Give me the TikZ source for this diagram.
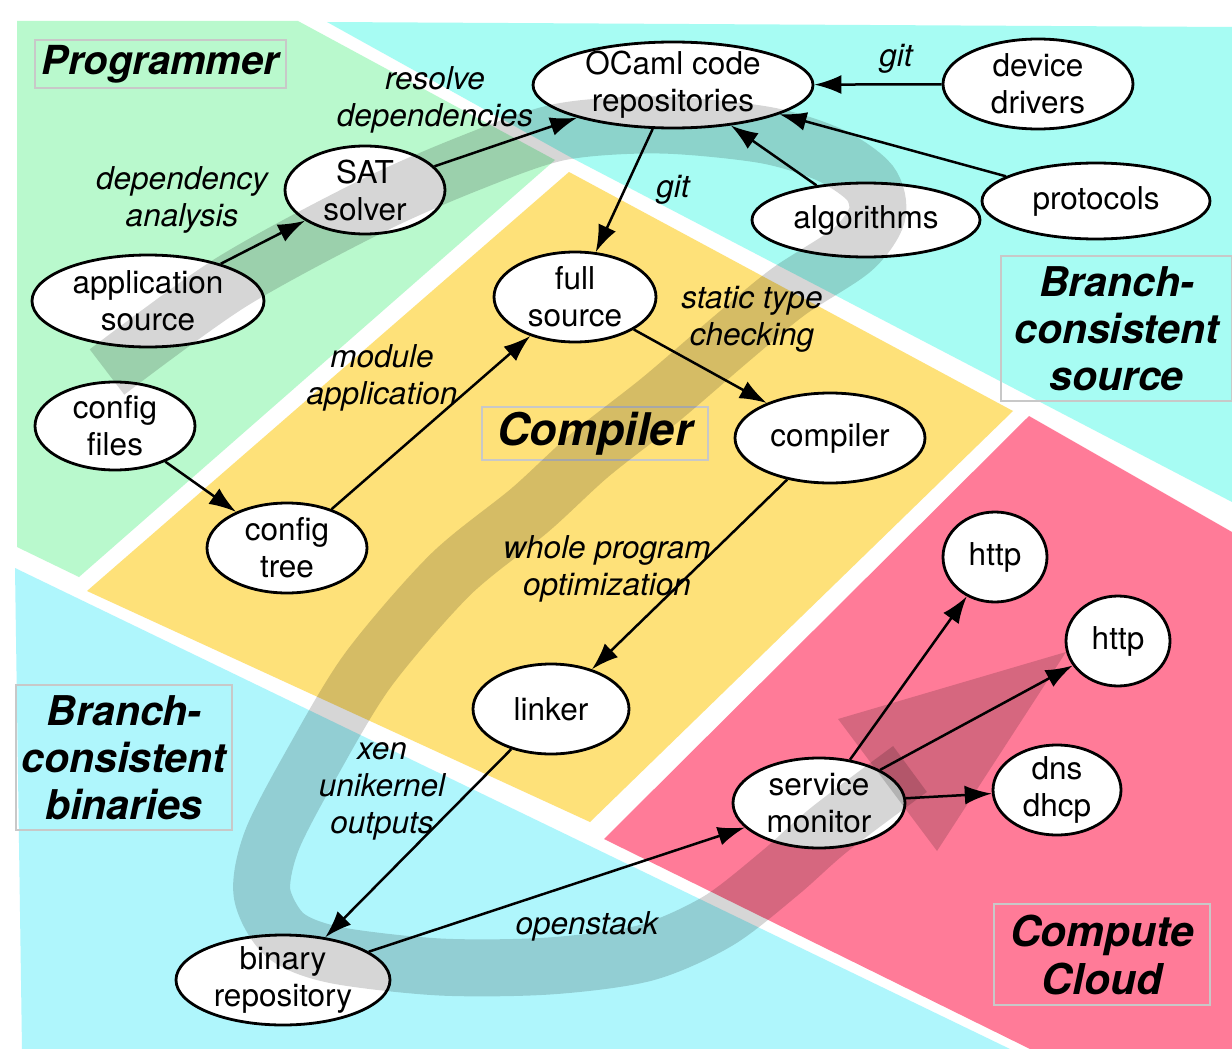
\documentclass[tikz,border=0pt]{standalone}
\usepackage{fontspec}
\setmainfont{TeX Gyre Heros}
\usetikzlibrary{arrows.meta,shapes.geometric}
\definecolor{cgreen}{RGB}{185,249,205}
\definecolor{ccyanA}{RGB}{167,252,243}
\definecolor{ccyanB}{RGB}{175,246,252}
\definecolor{cyellow}{RGB}{254,225,121}
\definecolor{cpink}{RGB}{255,123,152}
\definecolor{boxgray}{RGB}{200,200,200}
\begin{document}
\begin{tikzpicture}[x=1pt,y=-1pt,
  ell/.style={draw, ellipse, fill=white, line width=2.8pt, inner sep=0pt},
  ntext/.style={font=\fontsize{31.5}{37}\selectfont, align=center, inner sep=0pt},
  lbl/.style={font=\fontsize{31.5}{37}\selectfont\itshape, align=center, inner sep=0pt},
  ttl/.style={draw=boxgray, line width=2.2pt, font=\fontsize{41}{47}\selectfont\bfseries\itshape, align=center, inner sep=0pt},
  conn/.style={line width=2.5pt, -{Latex[length=27pt,width=19pt]}},
  band/.style={draw=black, draw opacity=0.16, line width=57pt},
  bandhead/.style={fill=black, fill opacity=0.16}
]
\useasboundingbox (0,0) rectangle (1232,1049);
\fill[white] (0,0) rectangle (1232,1049);
% regions
\fill[cgreen] (17,21) -- (298,21) -- (555,160) -- (79,577) -- (17,547) -- cycle;
\fill[ccyanA] (327,22) -- (1232,27) -- (1232,502) -- (572,158) -- cycle;
\fill[cyellow] (569,172) -- (1013,411) -- (590,822) -- (87,591) -- cycle;
\fill[cpink] (1029,416) -- (1232,532) -- (1232,1049) -- (1030,1049) -- (604,839) -- cycle;
\fill[ccyanB] (15,568) -- (1010,1049) -- (22,1049) -- cycle;

% title boxes
\node[ttl, minimum width=251, minimum height=48, font=\fontsize{40}{47}\selectfont\bfseries\itshape] (tprog) at (160.5,64) {Programmer};
\node[ttl, minimum width=226, minimum height=53, font=\fontsize{45}{50}\selectfont\bfseries\itshape] (tcomp) at (595,433.5) {Compiler};
\node[ttl, minimum width=231, minimum height=145] (tsrc) at (1116.5,328.5) {Branch-\\consistent\\source};
\node[ttl, minimum width=216, minimum height=145] (tbin) at (124,757.5) {Branch-\\consistent\\binaries};
\node[ttl, minimum width=216, minimum height=101, font=\fontsize{42.5}{48}\selectfont\bfseries\itshape] (tcloud) at (1102,954.5) {Compute\\Cloud};

% nodes
\newcommand\enode[6]{\node[ell, minimum width=#3, minimum height=#4] (#1) at (#2) {};
  \node[ntext] (#1t) at (#5) {#6};}
\enode{ocaml}{673,85}{280}{86}{673,85}{OCaml code\\repositories}
\enode{dev}{1038,84}{190}{90}{1038,84}{device\\drivers}
\enode{sat}{365,190}{160}{88}{365,190}{SAT\\solver}
\enode{app}{148,301}{232}{92}{148,301}{application\\source}
\enode{cfgf}{115,426}{160}{88}{115,426}{config\\files}
\enode{full}{575,297}{162}{90}{575,297}{full\\source}
\enode{algo}{866,220}{228}{74}{866,220}{algorithms}
\enode{proto}{1096,201}{228}{76}{1096,201}{protocols}
\enode{comp}{830,438}{190}{90}{830,438}{compiler}
\enode{cfgt}{287,548}{160}{90}{287,548}{config\\tree}
\enode{link}{551,709}{156}{90}{551,709}{linker}
\enode{bin}{283,980}{214}{90}{283,980}{binary\\repository}
\enode{mon}{819,803}{172}{90}{819,803}{service\\monitor}
\enode{httpa}{995,557}{104}{90}{995,557}{http}
\enode{httpb}{1118,641}{104}{90}{1118,641}{http}
\enode{dns}{1057,790}{128}{90}{1057,790}{dns\\dhcp}

% connectors
\draw[conn] (app) -- (sat);
\draw[conn] (sat) -- (ocaml);
\draw[conn] (dev) -- (ocaml);
\draw[conn] (algo) -- (ocaml);
\draw[conn] (proto) -- (ocaml);
\draw[conn] (ocaml) -- (full);
\draw[conn] (cfgf) -- (cfgt);
\draw[conn] (cfgt) -- (full);
\draw[conn] (full) -- (comp);
\draw[conn] (comp) -- (link);
\draw[conn] (link) -- (bin);
\draw[conn] (bin) -- (mon);
\draw[conn] (mon) -- (httpa);
\draw[conn] (mon) -- (httpb);
\draw[conn] (mon) -- (dns);

% edge labels
\node[lbl] (l1) at (435,100) {resolve\\dependencies};
\node[lbl] (l2) at (182,200) {dependency\\analysis};
\node[lbl] (l3) at (896,59) {git};
\node[lbl] (l4) at (673,190) {git};
\node[lbl] (l5) at (382,378) {module\\application};
\node[lbl] (l6) at (752,319) {static type\\checking};
\node[lbl] (l7) at (607,569) {whole program\\optimization};
\node[lbl] (l8) at (382,791) {xen\\unikernel\\outputs};
\node[lbl] (l9) at (587,926) {openstack};

% big translucent flow arrow
\draw[band] plot[smooth, tension=0.5] coordinates {
 (107,372) (230,283) (370,207) (470,163) (560,132) (660,125) (765,135)
 (830,155) (870,183) (877,215) (852,250) (788,292) (730,340) (660,400)
 (590,455) (530,510) (450,575) (368,670) (312,763) (272,840) (262,893)
 (285,935) (335,955) (440,967) (549,966) (645,953) (718,921) (780,873)
 (830,829) (910,769)};
\fill[bandhead] (838,719) -- (1066,652) -- (937,851) -- cycle;
\end{tikzpicture}
\end{document}
